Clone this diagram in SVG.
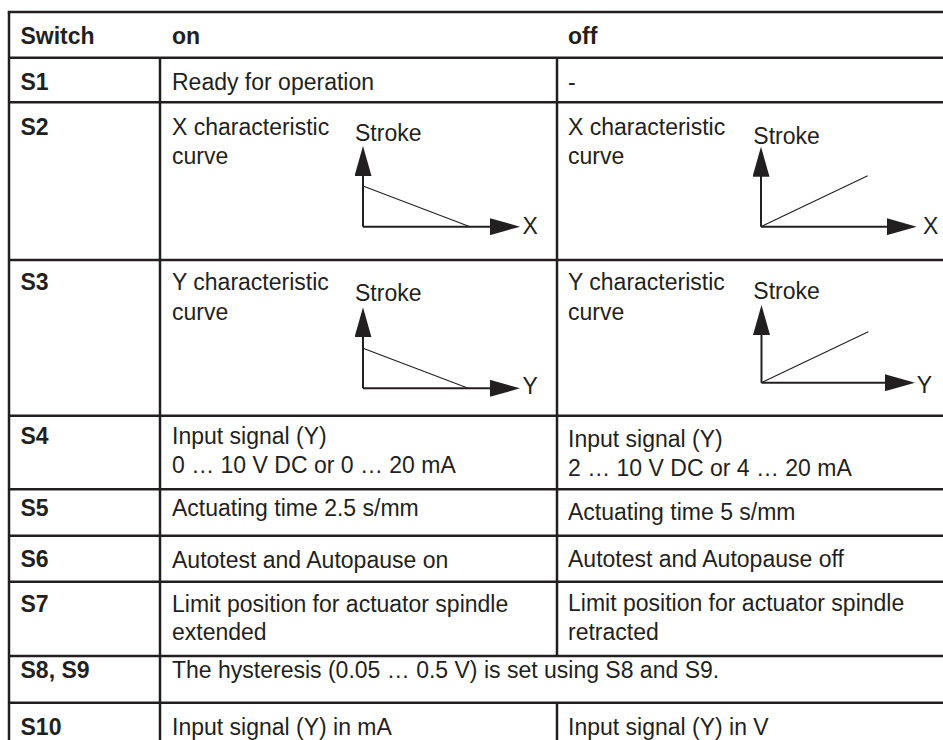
<svg xmlns="http://www.w3.org/2000/svg" width="943" height="740" viewBox="0 0 943 740">
<style>
.t{font-family:"Liberation Sans",Arial,sans-serif;font-size:23px;fill:#231f20}
.b{font-weight:bold}
.g{stroke:#231f20;stroke-width:2.5;fill:none}
.ax{stroke:#231f20;stroke-width:2;fill:none}
.dg{stroke:#231f20;stroke-width:1.1;fill:none}
</style>
<defs>
<marker id="ah" markerUnits="userSpaceOnUse" markerWidth="30" markerHeight="17" refX="25" refY="8.5" orient="auto" viewBox="0 0 30 17">
<path d="M0,0 L30,8.5 L0,17 Z" fill="#231f20"/>
</marker>
</defs>
<rect width="943" height="740" fill="#fff"/>
<g id="grid" class="g">
<line x1="7.75" y1="12" x2="943" y2="12"/>
<line x1="9" y1="12" x2="9" y2="740"/>
<line x1="9" y1="57.7" x2="943" y2="57.7"/>
<line x1="9" y1="102.3" x2="943" y2="102.3"/>
<line x1="9" y1="260" x2="943" y2="260"/>
<line x1="9" y1="415.7" x2="943" y2="415.7"/>
<line x1="9" y1="489.3" x2="943" y2="489.3"/>
<line x1="9" y1="535.7" x2="943" y2="535.7"/>
<line x1="9" y1="581.7" x2="943" y2="581.7"/>
<line x1="9" y1="656" x2="943" y2="656"/>
<line x1="9" y1="702.7" x2="943" y2="702.7"/>
<line x1="160" y1="57.7" x2="160" y2="740"/>
<line x1="557" y1="57.7" x2="557" y2="656"/>
<line x1="557" y1="702.7" x2="557" y2="740"/>
</g>
<g id="header">
<text class="t b" x="20.5" y="44">Switch</text>
<text class="t b" x="172" y="44">on</text>
<text class="t b" x="568" y="44">off</text>
</g>
<g id="row-s1">
<text class="t b" x="20.5" y="90">S1</text>
<text class="t" x="172" y="90">Ready for operation</text>
<text class="t" x="568" y="90">-</text>
</g>
<g id="row-s2">
<text class="t b" x="20.5" y="135">S2</text>
<text class="t" x="172" y="135">X characteristic</text>
<text class="t" x="172" y="164">curve</text>
<text class="t" x="568" y="135">X characteristic</text>
<text class="t" x="568" y="164">curve</text>
</g>
<g id="chart-s2-on">
<text class="t" x="355" y="140.7">Stroke</text>
<text class="t" x="522.5" y="234">X</text>
<line class="dg" x1="363" y1="186" x2="470" y2="226.7"/>
</g>
<g id="chart-s2-off">
<text class="t" x="753.3" y="144">Stroke</text>
<text class="t" x="923" y="234">X</text>
<line class="dg" x1="761" y1="226.7" x2="867.7" y2="175.7"/>
</g>
<g id="row-s3">
<text class="t b" x="20.5" y="290">S3</text>
<text class="t" x="172" y="290">Y characteristic</text>
<text class="t" x="172" y="320">curve</text>
<text class="t" x="568" y="290">Y characteristic</text>
<text class="t" x="568" y="320">curve</text>
</g>
<g id="chart-s3-on">
<text class="t" x="355" y="300.7">Stroke</text>
<text class="t" x="522.5" y="394">Y</text>
<line class="dg" x1="363" y1="348.3" x2="468.3" y2="388.3"/>
</g>
<g id="chart-s3-off">
<text class="t" x="753.3" y="299.3">Stroke</text>
<text class="t" x="916.7" y="392.7">Y</text>
<line class="dg" x1="761.5" y1="382.7" x2="868.3" y2="331.7"/>
</g>
<g id="row-s4">
<text class="t b" x="20.5" y="444">S4</text>
<text class="t" x="172" y="444">Input signal (Y)</text>
<text class="t" x="172" y="472.5">0 … 10 V DC or 0 … 20 mA</text>
<text class="t" x="568" y="447">Input signal (Y)</text>
<text class="t" x="568" y="475.5">2 … 10 V DC or 4 … 20 mA</text>
</g>
<g id="row-s5">
<text class="t b" x="20.5" y="516">S5</text>
<text class="t" x="172" y="516">Actuating time 2.5 s/mm</text>
<text class="t" x="568" y="520">Actuating time 5 s/mm</text>
</g>
<g id="row-s6">
<text class="t b" x="20.5" y="567">S6</text>
<text class="t" x="172" y="567.5">Autotest and Autopause on</text>
<text class="t" x="568" y="567">Autotest and Autopause off</text>
</g>
<g id="row-s7">
<text class="t b" x="20.5" y="611.5">S7</text>
<text class="t" x="172" y="611.5">Limit position for actuator spindle</text>
<text class="t" x="172" y="640">extended</text>
<text class="t" x="568" y="610.5">Limit position for actuator spindle</text>
<text class="t" x="568" y="640">retracted</text>
</g>
<g id="row-s8-s9">
<text class="t b" x="20.5" y="678">S8, S9</text>
<text class="t" x="172" y="678">The hysteresis (0.05 … 0.5 V) is set using S8 and S9.</text>
</g>
<g id="row-s10">
<text class="t b" x="20.5" y="735">S10</text>
<text class="t" x="172" y="735">Input signal (Y) in mA</text>
<text class="t" x="568" y="735">Input signal (Y) in V</text>
</g>
<g id="connectors" class="ax">
<line x1="363" y1="226.7" x2="363" y2="151" marker-end="url(#ah)"/>
<line x1="363" y1="226.7" x2="515" y2="226.7" marker-end="url(#ah)"/>
<line x1="761" y1="226.7" x2="761" y2="151.7" marker-end="url(#ah)"/>
<line x1="761" y1="226.7" x2="911.7" y2="226.7" marker-end="url(#ah)"/>
<line x1="363" y1="388.3" x2="363" y2="312.3" marker-end="url(#ah)"/>
<line x1="363" y1="388.3" x2="515" y2="388.3" marker-end="url(#ah)"/>
<line x1="761.5" y1="382.7" x2="761.5" y2="310" marker-end="url(#ah)"/>
<line x1="761.5" y1="382.7" x2="910" y2="382.7" marker-end="url(#ah)"/>
</g>
</svg>
